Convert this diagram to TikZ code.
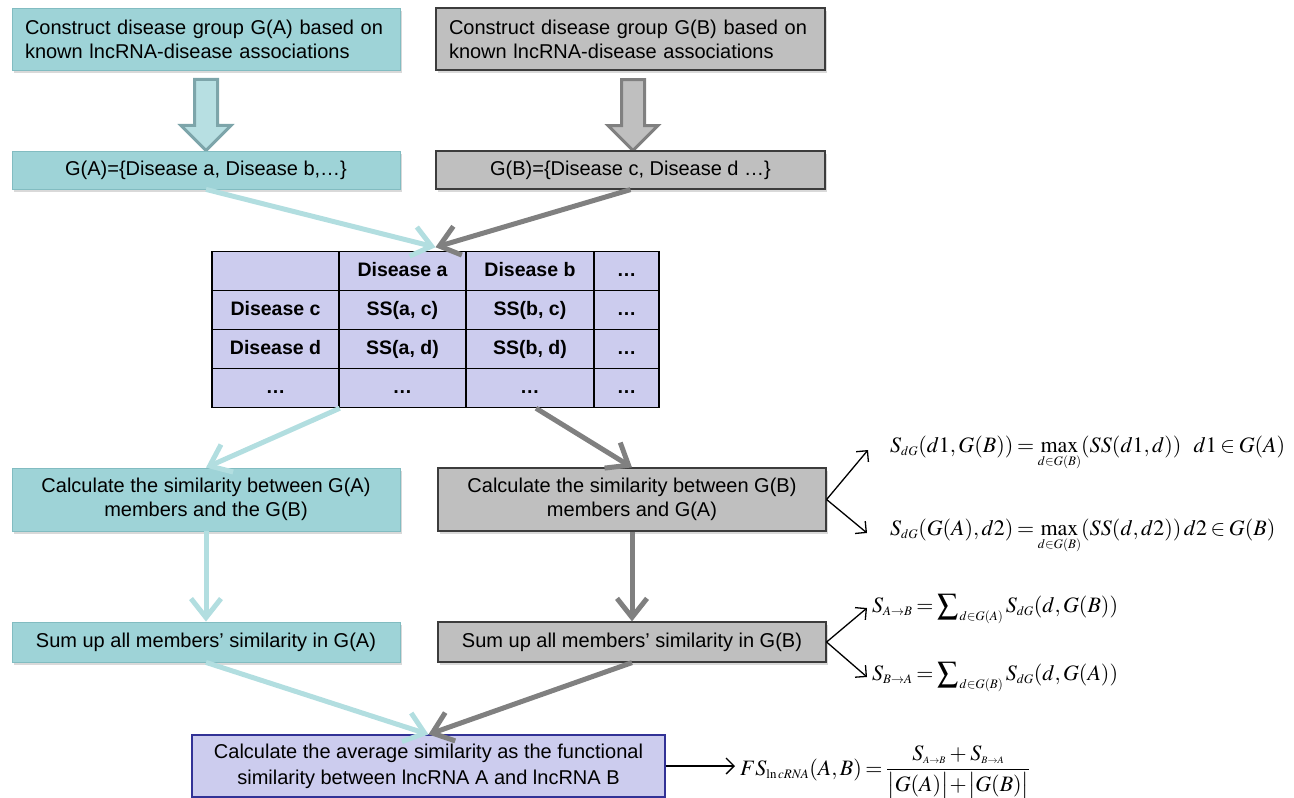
\documentclass[tikz,border=0pt]{standalone}
\usepackage{amsmath}
\usepackage{graphicx}
\usepackage{mathptmx}
\usepackage[no-math]{fontspec}
\setmainfont{Liberation Sans}
\DeclareMathSizes{22}{22}{13}{10}
\usetikzlibrary{arrows.meta,calc,shadows,matrix}
\definecolor{tealfill}{RGB}{158,211,215}
\definecolor{tealline}{RGB}{130,188,193}
\definecolor{tealarrow}{RGB}{178,222,224}
\definecolor{blockAfill}{RGB}{183,223,226}
\definecolor{blockAline}{RGB}{125,165,170}
\definecolor{grayfill}{RGB}{191,191,191}
\definecolor{grayline}{RGB}{60,60,60}
\definecolor{grayarrow}{RGB}{128,128,128}
\definecolor{lavfill}{RGB}{204,204,238}
\definecolor{finline}{RGB}{50,50,150}
\newcommand{\tightmath}{\thickmuskip=3mu plus 1mu\medmuskip=3mu plus 1mu}
\newcommand{\bigsum}{\mathop{\raisebox{-0.12em}{\scalebox{1.35}{$\sum$}}}\nolimits}
\begin{document}
\begin{tikzpicture}[x=1pt,y=-1pt,
  boxbase/.style={draw, inner sep=0, minimum width=388, font=\fontsize{20}{24}\selectfont,
    drop shadow={shadow xshift=2pt,shadow yshift=-3pt,opacity=0.3}},
  tealbox/.style={boxbase, fill=tealfill, draw=tealline, line width=0.8},
  graybox/.style={boxbase, fill=grayfill, draw=grayline, line width=1.2},
  tealarr/.style={draw=tealarrow, line width=5, -{Straight Barb[length=19pt,width=30pt]}},
  grayarr/.style={draw=grayarrow, line width=5, -{Straight Barb[length=19pt,width=30pt]}},
  thinarr/.style={draw=black, line width=1.3, -{Straight Barb[length=8pt,width=16pt]}},
  blockA/.style={fill=blockAfill, draw=blockAline, line width=3, line join=miter},
  blockB/.style={fill=grayfill, draw=grayarrow, line width=3, line join=miter},
  formula/.style={anchor=base west, inner sep=0, font=\fontsize{22}{26}\selectfont\tightmath}]
\useasboundingbox (0,0) rectangle (1294,798);

% top boxes
\node[tealbox, minimum height=62, text width=362, align=left] (a1) at (206,39)
  {Construct disease group G(A) based on\\known lncRNA-disease associations};
\node[graybox, minimum width=389, minimum height=62, text width=363, align=left] (b1) at (630.5,39)
  {Construct disease group G(B) based on\\known lncRNA-disease associations};

% block arrows
\draw[blockA] ($(a1.south)+(-11.5,9)$) -- ++(23,0) -- ++(0,46) -- ++(13.5,0)
  -- ++(-25,25) -- ++(-25,-25) -- ++(13.5,0) -- cycle;
\draw[blockB] ($(b1.south)+(-9,9)$) -- ++(23,0) -- ++(0,46) -- ++(13.5,0)
  -- ++(-25,25) -- ++(-25,-25) -- ++(13.5,0) -- cycle;

\node[tealbox, minimum height=38] (a2) at (206,170) {G(A)=\{Disease a, Disease b,…\}};
\node[graybox, minimum width=389, minimum height=38] (b2) at (630.5,170) {G(B)=\{Disease c, Disease d …\}};

% table
\matrix (tab) [matrix of nodes, nodes in empty cells,
  column sep=-1.5pt, row sep=-1.5pt,
  nodes={draw=black, line width=1.5, fill=lavfill, inner sep=0,
    font=\bfseries\fontsize{19.5}{22}\selectfont, minimum height=39,
    text height=14, text depth=4, anchor=center},
  column 1/.style={nodes={minimum width=127}},
  column 2/.style={nodes={minimum width=127}},
  column 3/.style={nodes={minimum width=128}},
  column 4/.style={nodes={minimum width=65}}] at (435.5,329.5) {
           & Disease a & Disease b & … \\
 Disease c & SS(a, c)  & SS(b, c)  & … \\
 Disease d & SS(a, d)  & SS(b, d)  & … \\
 …         & …         & …         & … \\
};

% middle boxes
\node[tealbox, minimum height=63, align=center] (a3) at (206,499.5)
  {Calculate the similarity between G(A)\\members and the G(B)};
\node[graybox, minimum height=63, align=center] (b3) at (632,499.5)
  {Calculate the similarity between G(B)\\members and G(A)};
\node[tealbox, minimum height=40] (a4) at (206,642) {Sum up all members’ similarity in G(A)};
\node[graybox, minimum height=40] (b4) at (632,642) {Sum up all members’ similarity in G(B)};

% final box
\node[draw=finline, fill=lavfill, line width=1.2, inner sep=0, minimum width=473, minimum height=62,
  align=center, font=\fontsize{20}{26}\selectfont] (fin) at (428.5,766)
  {Calculate the average similarity as the functional\\similarity between lncRNA A and lncRNA B};

% thick connectors
\draw[tealarr] (a2.south) -- (tab.north);
\draw[grayarr] (b2.south) -- (tab.north);
\draw[tealarr] (tab-4-1.south east) -- (a3.north);
\draw[grayarr] ($(tab-4-3.south)+(6,0)$) -- (b3.north);
\draw[tealarr] (a3.south) -- (a4.north);
\draw[grayarr] (b3.south) -- (b4.north);
\draw[tealarr] (a4.south) -- (fin.north);
\draw[grayarr] (b4.south) -- (fin.north);

% formulas
\node[formula] (f1) at (890,452)
  {$S_{dG}(d1, G(B)) = \max\limits_{d\in G(B)}(SS(d1,d))\ \ d1\in G(A)$};
\node[formula] (f2) at (890,535)
  {$S_{dG}(G(A), d2) = \max\limits_{d\in G(B)}(SS(d,d2))\, d2\in G(B)$};
\node[formula] (f3) at (872,612)
  {$S_{A\rightarrow B} = \bigsum_{\,d\in G(A)} S_{dG}(d,G(B))$};
\node[formula] (f4) at (872,680)
  {$S_{B\rightarrow A} = \bigsum_{\,d\in G(B)} S_{dG}(d,G(A))$};
\node[formula] (fs) at (740,775)
  {$FS_{\mathrm{ln}\,cRNA}(A,B) = \dfrac{S_{\scriptscriptstyle A\rightarrow B}+S_{\scriptscriptstyle B\rightarrow A}}{\bigl|G(A)\bigr|\!+\!\bigl|G(B)\bigr|}$};

\coordinate (t1) at (868,450);
\coordinate (t2) at (867,533);
\coordinate (t3) at (867,608);
\coordinate (t4) at (867,677);
\coordinate (t5) at (735,766);
\draw[thinarr] (b3.east) -- (t1);
\draw[thinarr] (b3.east) -- (t2);
\draw[thinarr] (b4.east) -- (t3);
\draw[thinarr] (b4.east) -- (t4);
\draw[thinarr] (fin.east) -- (t5);
\end{tikzpicture}
\end{document}
